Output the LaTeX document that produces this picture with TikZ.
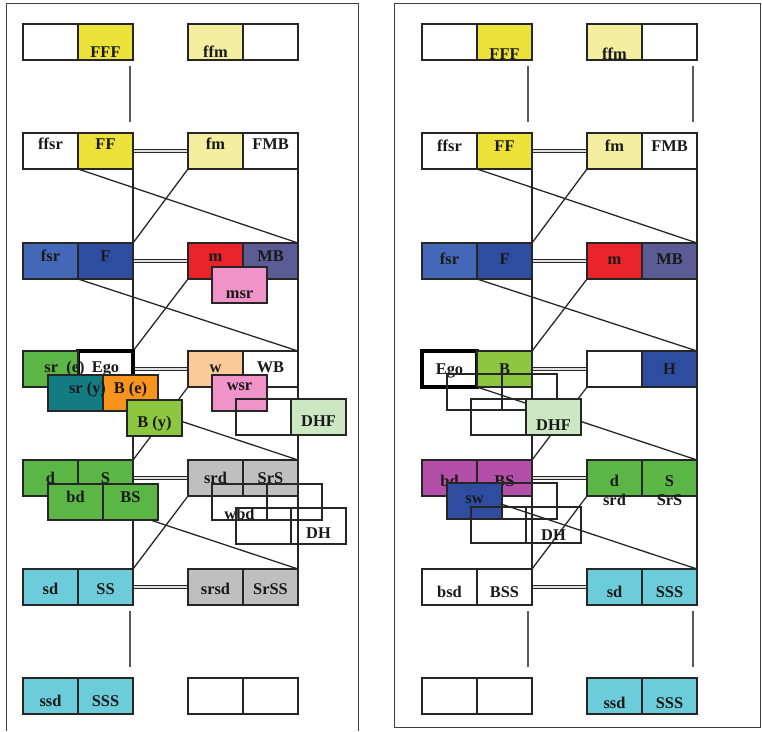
\documentclass[tikz,border=0pt]{standalone}
\usepackage{fontspec}
\setmainfont{Liberation Serif}
\usetikzlibrary{positioning, backgrounds}
\definecolor{kinyellow}{HTML}{ECE23A}
\definecolor{kinpale}{HTML}{F4EFA0}
\definecolor{kinblue}{HTML}{4468B8}
\definecolor{kinnavy}{HTML}{2E4DA0}
\definecolor{kinred}{HTML}{E8232A}
\definecolor{kinslate}{HTML}{5B5B96}
\definecolor{kinpink}{HTML}{EF93C8}
\definecolor{kingreen}{HTML}{5CB646}
\definecolor{kinteal}{HTML}{127C82}
\definecolor{kinorange}{HTML}{F7941E}
\definecolor{kinlime}{HTML}{8DC63F}
\definecolor{kinpeach}{HTML}{FACB98}
\definecolor{kinmint}{HTML}{CBE8C3}
\definecolor{kingray}{HTML}{BFBFBF}
\definecolor{kincyan}{HTML}{6CCCDA}
\definecolor{kinmagenta}{HTML}{B34FA8}
% shift a label sideways inside its cell (#1 = twice the shift)
\newcommand{\nudge}[2]{\makebox[0pt]{\hspace{#1}#2}}
% two centred lines, baseline on the first one
\newcommand{\twolines}[2]{\begin{tabular}[t]{@{}c@{}}#1\\#2\end{tabular}}

\begin{document}
\begin{tikzpicture}[x=0.03cm, y=-0.03cm,
        cell/.style={draw=black!85, line width=1.1pt, fill=white, minimum width=1.65cm, minimum height=1.08cm, inner sep=0pt, outer sep=0pt, anchor=north west, font=\bfseries\fontsize{14}{17}\selectfont, text=black!90, text height=0pt, text depth=0pt},
        hollow/.style={cell, fill=none},
        txtdn/.style={text height=#1},
        txtup/.style={text depth=#1},
        ego/.style={draw=black, line width=3pt},
        link/.style={line width=1.1pt, black!85},
        wed/.style={line width=0.8pt, black!85, double=black!12, double distance=1.8pt},
        stem/.style={line width=1.1pt, black!65, shorten <=0.18cm, shorten >=0.33cm},
        frame/.style={line width=0.7pt, black!75}
    ]
    \useasboundingbox (0,0) rectangle (762,731);

    % ---- left chart ----
    \draw[frame] (6,731) |- (358,3) -- (358,731);

    \node (lFFFx) [cell] at (23,24) {};
    \node (lFFF) [cell, fill=kinyellow, txtdn=0.9cm, right=0pt of lFFFx] {FFF};
    \node (lffm) [cell, fill=kinpale, txtdn=0.9cm] at (188,24) {ffm};
    \node (lffmx) [cell, right=0pt of lffm] {};

    \node (lffsr) [cell, txtup=0.12cm] at (23,133) {ffsr};
    \node (lFF) [cell, fill=kinyellow, txtup=0.12cm, right=0pt of lffsr] {FF};
    \node (lfm) [cell, fill=kinpale, txtup=0.12cm] at (188,133) {fm};
    \node (lFMB) [cell, txtup=0.12cm, right=0pt of lfm] {FMB};

    \node (lfsr) [cell, fill=kinblue] at (23,243) {fsr};
    \node (lF) [cell, fill=kinnavy, right=0pt of lfsr] {F};
    \node (lm) [cell, fill=kinred] at (188,243) {m};
    \node (lMB) [cell, fill=kinslate, right=0pt of lm] {MB};
    \node (lmsr) [cell, fill=kinpink, txtdn=0.78cm] at (212,267) {msr};

    \node (lEgo) [cell, ego, txtdn=0.18cm] at (78,351) {Ego};
    \node (lsre) [cell, fill=kingreen, txtdn=0.18cm, left=0pt of lEgo] {\nudge{0.84cm}{sr\ \ (e)}};
    \node (lw) [cell, fill=kinpeach, txtdn=0.18cm] at (188,351) {w};
    \node (lWB) [cell, txtdn=0.18cm, right=0pt of lw] {WB};
    \node (lBe) [cell, fill=kinorange] at (103,375) {B (e)};
    \node (lsry) [cell, fill=kinteal, left=0pt of lBe] {\nudge{0.72cm}{sr (y)}};
    \node (lBy) [cell, fill=kinlime, txtdn=0.57cm] at (127,400) {B (y)};
    \node (lwsr) [cell, fill=kinpink, txtup=0.18cm] at (212,375) {wsr};
    \node (lDHFx) [hollow] at (236,399) {};
    \node (lDHF) [cell, fill=kinmint, txtdn=0.57cm, right=0pt of lDHFx] {DHF};

    \node (ld) [cell, fill=kingreen, txtdn=0.3cm] at (23,460) {d};
    \node (lS) [cell, fill=kingreen, txtdn=0.3cm, right=0pt of ld] {S};
    \node (lsrd) [cell, fill=kingray, txtdn=0.3cm] at (188,460) {srd};
    \node (lSrS) [cell, fill=kingray, txtdn=0.3cm, right=0pt of lsrd] {SrS};
    \node (lbd) [cell, fill=kingreen] at (48,484) {bd};
    \node (lBS) [cell, fill=kingreen, right=0pt of lbd] {BS};
    \node (lwbd) [hollow, txtdn=1.02cm] at (212,484) {wbd};
    \node (lwbdx) [hollow, right=0pt of lwbd] {};
    \node (lDHx) [hollow] at (236,508) {};
    \node (lDH) [hollow, txtdn=0.72cm, right=0pt of lDHx] {DH};

    \node (lsd) [cell, fill=kincyan, txtdn=0.45cm] at (23,569) {sd};
    \node (lSS) [cell, fill=kincyan, txtdn=0.45cm, right=0pt of lsd] {SS};
    \node (lsrsd) [cell, fill=kingray, txtdn=0.45cm] at (188,569) {srsd};
    \node (lSrSS) [cell, fill=kingray, txtdn=0.45cm, right=0pt of lsrsd] {SrSS};

    \node (lssd) [cell, fill=kincyan, txtdn=0.6cm] at (23,678) {ssd};
    \node (lSSS) [cell, fill=kincyan, txtdn=0.6cm, right=0pt of lssd] {SSS};
    \node (lgx) [cell] at (188,678) {};
    \node (lgy) [cell, right=0pt of lgx] {};

    % ---- right chart ----
    \draw[frame] (394,3) rectangle (760,727);

    \node (rFFFx) [cell] at (422,24) {};
    \node (rFFF) [cell, fill=kinyellow, txtdn=1.02cm, right=0pt of rFFFx] {FFF};
    \node (rffm) [cell, fill=kinpale, txtdn=1.02cm] at (587,24) {ffm};
    \node (rffmx) [cell, right=0pt of rffm] {};

    \node (rffsr) [cell] at (422,133) {ffsr};
    \node (rFF) [cell, fill=kinyellow, right=0pt of rffsr] {FF};
    \node (rfm) [cell, fill=kinpale] at (587,133) {fm};
    \node (rFMB) [cell, right=0pt of rfm] {FMB};

    \node (rfsr) [cell, fill=kinblue, txtdn=0.18cm] at (422,243) {fsr};
    \node (rF) [cell, fill=kinnavy, txtdn=0.18cm, right=0pt of rfsr] {F};
    \node (rm) [cell, fill=kinred, txtdn=0.18cm] at (587,243) {m};
    \node (rMB) [cell, fill=kinslate, txtdn=0.18cm, right=0pt of rm] {MB};

    \node (rEgo) [cell, ego, txtdn=0.3cm] at (422,351) {Ego};
    \node (rB) [cell, fill=kinlime, txtdn=0.3cm, right=0pt of rEgo] {B};
    \node (rHx) [cell] at (587,351) {};
    \node (rH) [cell, fill=kinnavy, txtdn=0.3cm, right=0pt of rHx] {H};
    \node (rovA) [hollow] at (447,374) {};
    \node (rovB) [hollow, right=0pt of rovA] {};
    \node (rDHFx) [hollow] at (471,399) {};
    \node (rDHF) [cell, fill=kinmint, txtdn=0.78cm, right=0pt of rDHFx] {DHF};

    \node (rbd) [cell, fill=kinmagenta, txtdn=0.48cm] at (422,460) {bd};
    \node (rBS) [cell, fill=kinmagenta, txtdn=0.48cm, right=0pt of rbd] {BS};
    \node (rd) [cell, fill=kingreen, txtdn=0.48cm] at (587,460) {\twolines{d}{srd}};
    \node (rS) [cell, fill=kingreen, txtdn=0.48cm, right=0pt of rd] {\twolines{S}{SrS}};
    \node (rsw) [cell, fill=kinnavy, txtdn=0.12cm] at (447,483) {sw};
    \node (rswx) [hollow, right=0pt of rsw] {};
    \node (rDHx) [hollow] at (471,507) {};
    \node (rDH) [hollow, txtdn=0.9cm, right=0pt of rDHx] {DH};

    \node (rbsd) [cell, txtdn=0.6cm] at (422,569) {bsd};
    \node (rBSS) [cell, txtdn=0.6cm, right=0pt of rbsd] {BSS};
    \node (rsd) [cell, fill=kincyan, txtdn=0.6cm] at (587,569) {sd};
    \node (rSSS) [cell, fill=kincyan, txtdn=0.6cm, right=0pt of rsd] {SSS};

    \node (rgx) [cell] at (422,678) {};
    \node (rgy) [cell, right=0pt of rgx] {};
    \node (rssd) [cell, fill=kincyan, txtdn=0.72cm] at (587,678) {ssd};
    \node (rSSSl) [cell, fill=kincyan, txtdn=0.72cm, right=0pt of rssd] {SSS};

    % lines of descent and marriage, kept under the cells
    \begin{pgfonlayer}{background}
        \draw[stem] ([xshift=-0.09cm]lFFF.south east) -- ([xshift=-0.09cm]lFF.north east);
        \draw[stem] ([xshift=-0.09cm]lSS.south east) -- ([xshift=-0.09cm]lSSS.north east);
        \draw[link] (lFF.south east) -- (lSS.north east);
        \draw[link] (lFMB.south east) -- (lSrSS.north east);
        \draw[link] (lFF.south west) -- (lMB.north east);
        \draw[link] (lfm.south west) -- (lF.north east);
        \draw[link] (lF.south west) -- (lWB.north east);
        \draw[link] (lm.south west) -- (lEgo.north east);
        \draw[link] (lEgo.south west) -- (lSrS.north east);
        \draw[link] (lw.south west) -- (lS.north east);
        \draw[link] (lS.south west) -- (lSrSS.north east);
        \draw[link] (lsrd.south west) -- (lSS.north east);
        \draw[wed] (lFF) -- (lfm);
        \draw[wed] (lF) -- (lm);
        \draw[wed] (lEgo) -- (lw);
        \draw[wed] (lS) -- (lsrd);
        \draw[wed] (lSS) -- (lsrsd);

        \draw[stem] ([xshift=-0.12cm]rFFF.south east) -- ([xshift=-0.12cm]rFF.north east);
        \draw[stem] ([xshift=-0.12cm]rffmx.south east) -- ([xshift=-0.12cm]rFMB.north east);
        \draw[stem] ([xshift=-0.12cm]rBSS.south east) -- ([xshift=-0.12cm]rgy.north east);
        \draw[stem] ([xshift=-0.12cm]rSSS.south east) -- ([xshift=-0.12cm]rSSSl.north east);
        \draw[link] (rFF.south east) -- (rBSS.north east);
        \draw[link] (rFMB.south east) -- (rSSS.north east);
        \draw[link] (rFF.south west) -- (rMB.north east);
        \draw[link] (rfm.south west) -- (rF.north east);
        \draw[link] (rF.south west) -- (rH.north east);
        \draw[link] (rm.south west) -- (rB.north east);
        \draw[link] (rB.south west) -- (rS.north east);
        \draw[link] (rHx.south west) -- (rBS.north east);
        \draw[link] (rBS.south west) -- (rSSS.north east);
        \draw[link] (rd.south west) -- (rBSS.north east);
        \draw[wed] (rFF) -- (rfm);
        \draw[wed] (rF) -- (rm);
        \draw[wed] (rB) -- (rHx);
        \draw[wed] (rBS) -- (rd);
        \draw[wed] (rBSS) -- (rsd);
    \end{pgfonlayer}
\end{tikzpicture}
\end{document}
